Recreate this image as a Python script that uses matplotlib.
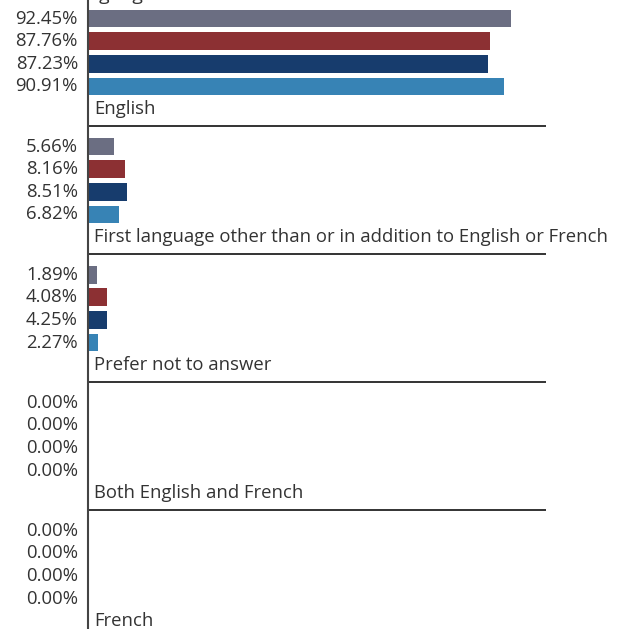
import matplotlib.pyplot as plt
import numpy as np

# Share of respondents by first language, four survey groups per category
categories = ['English',
              'First language other than or in addition to English or French',
              'Prefer not to answer',
              'Both English and French',
              'French']
series_a = [92.45, 5.66, 1.89, 0.00, 0.00]
series_b = [87.76, 8.16, 4.08, 0.00, 0.00]
series_c = [87.23, 8.51, 4.25, 0.00, 0.00]
series_d = [90.91, 6.82, 2.27, 0.00, 0.00]
colors = ['#6b6e82', '#8c3033', '#173c6d', '#3783b5']

plt.rcParams['font.family'] = ['Open Sans', 'DejaVu Sans']
text_color = '#333333'

fig = plt.figure(figsize=(6.23, 6.29), dpi=100)
ax = fig.add_axes([88 / 623, 0, (546 - 88) / 623, 1])

series = [series_a, series_b, series_c, series_d]
group_step = 5.665   # slots between category blocks
bar_h = 0.78

for g, cat in enumerate(categories):
    base = g * group_step
    for i, vals in enumerate(series):
        y = base + i
        ax.barh(y, vals[g], height=bar_h, color=colors[i], left=0)
        ax.text(-2.2, y, f'{vals[g]:.2f}%', ha='right', va='center',
                fontsize=13.3, color=text_color, clip_on=False)
    ax.text(1.3, base + 4.0, cat, ha='left', va='center',
            fontsize=13.3, color=text_color, clip_on=False)
    ax.axhline(base + 4.75, xmin=0, xmax=1, color='#333333', lw=1.4)

ax.set_xlim(0, 100)
ax.set_ylim(27.0, -0.82)
ax.set_xticks([])
ax.set_yticks([])
for side in ['top', 'right', 'bottom']:
    ax.spines[side].set_visible(False)
ax.spines['left'].set_color('#444444')
ax.spines['left'].set_linewidth(1.5)

# chart title sits mostly above the visible area
fig.text(0.035, 1.0, 'First Language', ha='left', va='baseline',
         fontsize=14, color=text_color)

fig.savefig('out.png', dpi=100)
